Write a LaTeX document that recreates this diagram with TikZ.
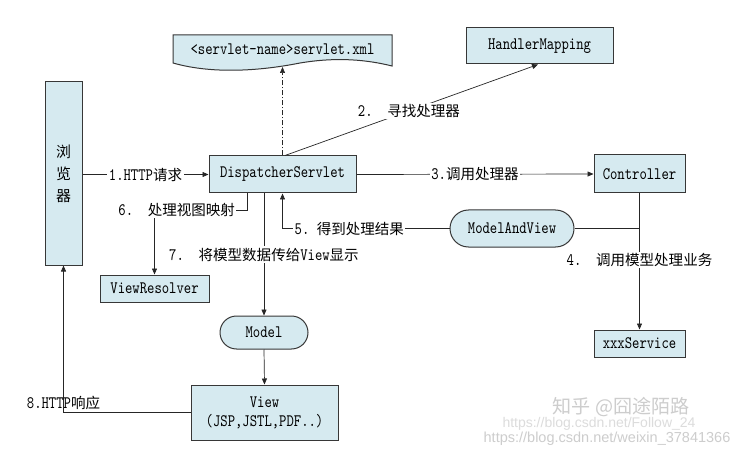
\documentclass[tikz,border=0pt]{standalone}
\usepackage{fontspec}
\newfontfamily\cjk{Noto Sans CJK SC}[Scale=0.83]
\newfontfamily\lat{lmmono10-regular.otf}[FakeStretch=0.8]
\newfontfamily\wmfont{Liberation Sans}
\usetikzlibrary{arrows.meta,shapes.misc}
\definecolor{boxblue}{RGB}{214,234,240}
\definecolor{edgegray}{RGB}{55,55,55}
\definecolor{wmgray}{RGB}{205,205,205}
\tikzset{
  box/.style={draw=edgegray, line width=1pt, fill=boxblue, inner sep=2pt},
  pill/.style={box, rounded rectangle},
  lbl/.style={fill=white, inner sep=1.5pt},
  wire/.style={draw=black!85, line width=0.7pt},
  link/.style={wire, -{Triangle[length=6pt,width=5pt]}},
}
\begin{document}
\begin{tikzpicture}[x=1pt, y=-1pt, font=\lat\fontsize{17.5}{20}\selectfont]
  \useasboundingbox[fill=white] (0,0) rectangle (752,457);
  % boxes
  \node[box, minimum width=37pt, minimum height=183pt, align=center,
        font=\cjk\fontsize{18}{22}\selectfont] (browser) at (63.5,173.5) {浏\\览\\器};
  \node[box, minimum width=147pt, minimum height=37pt] (disp) at (282.5,174.5) {DispatcherServlet};
  \draw[box] (173,35) -- (392,35) -- (392,66) .. controls (360,58) and (330,58) .. (300,63)
        .. controls (265,70) and (215,75) .. (173,63) -- cycle;
  \node (xml) at (282.5,49) {<servlet-name>servlet.xml};
  \coordinate (xmlb) at (282.5,67);
  \node[box, minimum width=147pt, minimum height=36pt] (hmap) at (539.5,46) {HandlerMapping};
  \node[box, minimum width=91pt, minimum height=38pt] (ctrl) at (639.5,174) {Controller};
  \node[pill, minimum width=128pt, minimum height=37pt] (mav) at (512,228.5) {ModelAndView};
  \node[box, minimum width=91pt, minimum height=27pt] (svc) at (639.5,343.5) {xxxService};
  \node[box, minimum width=109pt, minimum height=27pt] (vres) at (154.5,288.5) {ViewResolver};
  \node[pill, minimum width=92pt, minimum height=33pt] (model) at (264,332.5) {Model};
  \node[box, minimum width=147pt, minimum height=55pt, align=center,
        font=\lat\fontsize{17.5}{19}\selectfont] (view) at (264.5,412.5) {View\\(JSP,JSTL,PDF..)};
  \coordinate (turn6) at (154.5,210);
  % connectors
  \draw[link] (browser.east |- disp.west) -- node[lbl]{1.HTTP{\cjk 请求}} (disp.west);
  \draw[link, dash pattern=on 5pt off 2pt on 1pt off 2pt] (disp.north) -- (xmlb);
  \draw[link] ([xshift=2.5pt]disp.north) -- node[lbl, pos=0.49]{2.\ \ {\cjk 寻找处理器}} ([xshift=-1.5pt]hmap.south);
  \draw[link] (disp.east) -- node[lbl]{3.{\cjk 调用处理器}} (ctrl.west);
  \draw[link] (ctrl.south) -- node[lbl, pos=0.49]{4.\ \ {\cjk 调用模型处理业务}} (svc.north);
  \draw[wire] (ctrl.south |- mav.east) -- (mav.east);
  \draw[link] (mav.west) -| node[lbl, pos=0.3]{5.\ {\cjk 得到处理结果}} (disp.south);
  \draw[link] ([xshift=-35.5pt]disp.south) |- node[lbl, pos=0.88]{6.\ \ {\cjk 处理视图映射}} (turn6) -- (vres.north);
  \draw[link] (model.north |- disp.south) -- node[lbl]{7.\ \ {\cjk 将模型数据传给}View{\cjk 显示}} (model.north);
  \draw[link] (model.south) -- (view.north);
  \draw[link] (view.west) -| node[pos=0.5, above, inner sep=2pt]{8.HTTP{\cjk 响应}} (browser.south);
  % watermarks
  \node[text=wmgray, font=\cjk\fontsize{23}{25}\selectfont] (wm1) at (621,407) {知乎 @囧途陌路};
  \node[text=wmgray!70, font=\wmfont\fontsize{14}{16}\selectfont] (wm2) at (599,424) {https://blog.csdn.net/Follow\_24};
  \node[text=wmgray, font=\wmfont\fontsize{14.5}{16}\selectfont] (wm3) at (607,439) {https://blog.csdn.net/weixin\_37841366};
\end{tikzpicture}
\end{document}
